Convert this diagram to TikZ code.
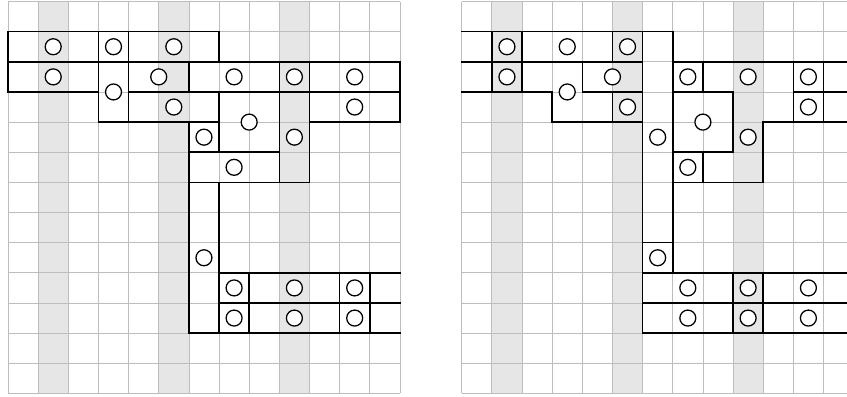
\documentclass[tikz,border=0pt]{standalone}
\usepackage{tikz}
\definecolor{Shade}{HTML}{E6E6E6}
\definecolor{GridLine}{HTML}{BDBDBD}

\begin{document}
\begin{tikzpicture}[x=1cm,y=-1cm,
cellgrid/.style={draw=GridLine,line width=0.7pt},
wall/.style={draw=black,line width=1.5pt,line cap=rect},
site/.style={draw=black,fill=white,line width=1.2pt}]
\useasboundingbox (-0.265,-0.05) rectangle (27.83,13.117);
% shaded columns and the two lattices
\foreach \ox in {0,15.05}{
  \foreach \c in {1,5,9}
    \fill[Shade] (\ox+\c,0) rectangle (\ox+\c+1,13);
  \draw[cellgrid,shift={(\ox,0)}] (0,0) grid (13,13);
}
% left partition
\draw[wall] (0,1)--(7,1) (0,2)--(13,2) (0,3)--(3,3) (4,3)--(13,3)
  (3,4)--(7,4) (10,4)--(13,4) (6,5)--(9,5) (6,6)--(10,6)
  (7,9)--(13,9) (7,10)--(13,10) (6,11)--(13,11);
\draw[wall] (0,1)--(0,3) (3,1)--(3,4) (4,1)--(4,4) (6,2)--(6,3) (6,4)--(6,11)
  (7,1)--(7,2) (7,3)--(7,5) (7,6)--(7,11) (8,9)--(8,11) (9,2)--(9,6)
  (10,2)--(10,6) (11,9)--(11,11) (12,9)--(12,11) (13,2)--(13,4);
% right partition
\begin{scope}[xshift=15.05cm]
\draw[wall] (0,1)--(7,1) (0,2)--(6,2) (7,2)--(13,2) (0,3)--(3,3) (4,3)--(6,3)
  (7,3)--(9,3) (11,3)--(13,3) (3,4)--(6,4) (10,4)--(13,4) (7,5)--(9,5)
  (7,6)--(10,6) (6,8)--(7,8) (6,9)--(13,9) (6,10)--(13,10) (6,11)--(13,11);
\draw[wall] (1,1)--(1,3) (2,1)--(2,3) (3,3)--(3,4) (4,2)--(4,3) (5,1)--(5,2)
  (5,3)--(5,4) (6,1)--(6,11) (7,1)--(7,9) (8,2)--(8,3) (8,5)--(8,6)
  (9,3)--(9,5) (9,9)--(9,11) (10,4)--(10,6) (10,9)--(10,11) (11,2)--(11,4)
  (12,2)--(12,4);
\end{scope}
% sites, same in both
\foreach \ox in {0,15.05}
  \foreach \cx/\cy in {1.5/1.5,3.5/1.5,5.5/1.5,1.5/2.5,5/2.5,7.5/2.5,9.5/2.5,
      11.5/2.5,3.5/3,5.5/3.5,11.5/3.5,8/4,6.5/4.5,9.5/4.5,7.5/5.5,6.5/8.5,
      7.5/9.5,9.5/9.5,11.5/9.5,7.5/10.5,9.5/10.5,11.5/10.5}
    \draw[site] (\ox+\cx,\cy) circle (0.265);
\end{tikzpicture}
\end{document}
